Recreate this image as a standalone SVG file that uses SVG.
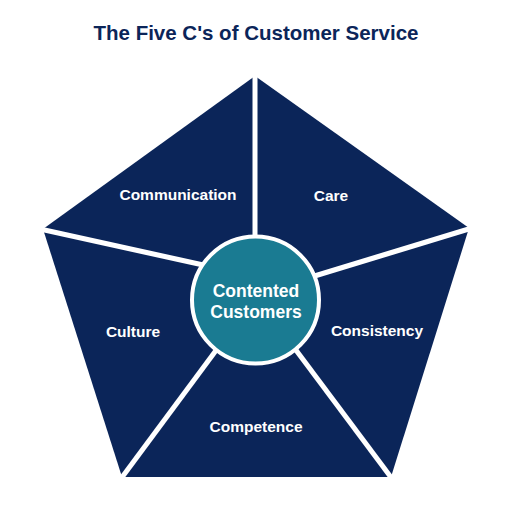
<svg xmlns="http://www.w3.org/2000/svg" width="510" height="510" viewBox="0 0 510 510">
  <style>
    .seg { fill: #0b2559; }
    .div { stroke: #ffffff; stroke-width: 5; stroke-linecap: butt; fill: none; }
    .lbl { font-family: "Liberation Sans", Arial, sans-serif; font-weight: bold; font-size: 15.5px; fill: #ffffff; text-anchor: middle; }
    .hub { font-family: "Liberation Sans", Arial, sans-serif; font-weight: bold; font-size: 17.5px; fill: #ffffff; text-anchor: middle; }
    .title { font-family: "Liberation Sans", Arial, sans-serif; font-weight: bold; font-size: 20.5px; fill: #0b2559; text-anchor: middle; }
  </style>
  <rect width="510" height="510" fill="#ffffff"/>
  <text class="title" x="256" y="40">The Five C's of Customer Service</text>

  <g id="pentagon">
    <polygon class="seg" points="255,76 469,228 391,477 122,477 43,229"/>
  </g>

  <g id="connectors">
    <line class="div" x1="255" y1="70" x2="255" y2="260"/>
    <line class="div" x1="40" y1="229" x2="235" y2="272"/>
    <line class="div" x1="472" y1="228" x2="285" y2="285"/>
    <line class="div" x1="120" y1="480" x2="240" y2="318"/>
    <line class="div" x1="393" y1="480" x2="275" y2="322"/>
  </g>

  <g id="communication"><text class="lbl" x="178" y="200">Communication</text></g>
  <g id="care"><text class="lbl" x="331" y="201">Care</text></g>
  <g id="consistency"><text class="lbl" x="377" y="336">Consistency</text></g>
  <g id="competence"><text class="lbl" x="256" y="432">Competence</text></g>
  <g id="culture"><text class="lbl" x="133" y="337">Culture</text></g>

  <g id="hub">
    <circle cx="255.5" cy="300" r="63.5" fill="#1a7b92" stroke="#ffffff" stroke-width="4"/>
    <text class="hub" x="256" y="297">Contented</text>
    <text class="hub" x="256" y="318">Customers</text>
  </g>
</svg>
